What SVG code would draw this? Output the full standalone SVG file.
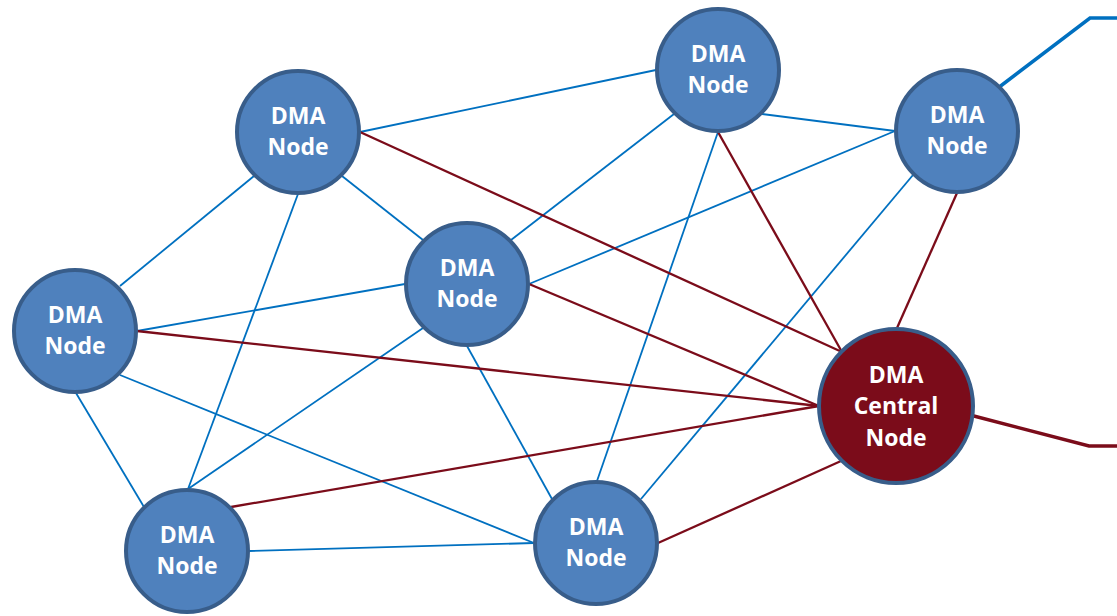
<svg xmlns="http://www.w3.org/2000/svg" width="1117" height="616" viewBox="0 0 1117 616">
  <style>
    .blue { stroke: #0070C0; stroke-width: 1.8; fill: none; }
    .red { stroke: #7B0C1A; stroke-width: 2.3; fill: none; }
    .ext-blue { stroke: #0070C0; stroke-width: 3.5; fill: none; }
    .ext-red { stroke: #7B0C1A; stroke-width: 3.5; fill: none; }
    .node circle { fill: #4F81BD; stroke: #385D8A; stroke-width: 4; }
    .central circle { fill: #7B0C1A; stroke: #385D8A; stroke-width: 4; }
    text { font-family: "Open Sans", "Liberation Sans", sans-serif; font-weight: 700; font-size: 23px; fill: #FFFFFF; text-anchor: middle; }
  </style>

  <!-- connectors between nodes -->
  <g id="connectors">
    <!-- mesh links -->
    <line class="blue" x1="360" y1="132" x2="656" y2="70"/>
    <line class="blue" x1="254" y1="176" x2="120" y2="286"/>
    <line class="blue" x1="298" y1="194" x2="188" y2="489"/>
    <line class="blue" x1="342" y1="176" x2="423" y2="240"/>
    <line class="blue" x1="762" y1="114" x2="895" y2="131"/>
    <line class="blue" x1="674" y1="114" x2="511" y2="240"/>
    <line class="blue" x1="718" y1="132" x2="597" y2="481"/>
    <line class="blue" x1="529" y1="284" x2="895" y2="131"/>
    <line class="blue" x1="913" y1="175" x2="641" y2="499"/>
    <line class="blue" x1="137" y1="331" x2="405" y2="284"/>
    <line class="blue" x1="76" y1="393" x2="144" y2="507"/>
    <line class="blue" x1="120" y1="375" x2="534" y2="543"/>
    <line class="blue" x1="423" y1="328" x2="188" y2="489"/>
    <line class="blue" x1="467" y1="346" x2="552" y2="499"/>
    <line class="blue" x1="249" y1="551" x2="534" y2="543"/>
    <!-- links to the central node -->
    <line class="red" x1="360" y1="132" x2="842" y2="352"/>
    <line class="red" x1="718" y1="132" x2="842" y2="352"/>
    <line class="red" x1="957" y1="193" x2="897" y2="328"/>
    <line class="red" x1="137" y1="331" x2="819" y2="406"/>
    <line class="red" x1="529" y1="284" x2="819" y2="406"/>
    <line class="red" x1="231" y1="507" x2="819" y2="406"/>
    <line class="red" x1="658" y1="543" x2="841" y2="461"/>
    <!-- outgoing links -->
    <polyline class="ext-blue" points="998,88 1090,18 1117,18"/>
    <polyline class="ext-red" points="970,415 1089,446 1117,446"/>
  </g>

  <g id="node-1" class="node">
    <circle cx="298" cy="132" r="61"/>
    <text x="298" y="124">DMA</text>
    <text x="298" y="155">Node</text>
  </g>
  <g id="node-2" class="node">
    <circle cx="718" cy="70" r="61"/>
    <text x="718" y="62">DMA</text>
    <text x="718" y="93">Node</text>
  </g>
  <g id="node-3" class="node">
    <circle cx="957" cy="131" r="61"/>
    <text x="957" y="123">DMA</text>
    <text x="957" y="154">Node</text>
  </g>
  <g id="node-4" class="node">
    <circle cx="75" cy="331" r="61"/>
    <text x="75" y="323">DMA</text>
    <text x="75" y="354">Node</text>
  </g>
  <g id="node-5" class="node">
    <circle cx="467" cy="284" r="61"/>
    <text x="467" y="276">DMA</text>
    <text x="467" y="307">Node</text>
  </g>
  <g id="node-7" class="node">
    <circle cx="187" cy="551" r="61"/>
    <text x="187" y="543">DMA</text>
    <text x="187" y="574">Node</text>
  </g>
  <g id="node-8" class="node">
    <circle cx="596" cy="543" r="61"/>
    <text x="596" y="535">DMA</text>
    <text x="596" y="566">Node</text>
  </g>
  <g id="central-node" class="central">
    <circle cx="896" cy="406" r="77"/>
    <text x="896" y="383">DMA</text>
    <text x="896" y="414">Central</text>
    <text x="896" y="446">Node</text>
  </g>
</svg>
